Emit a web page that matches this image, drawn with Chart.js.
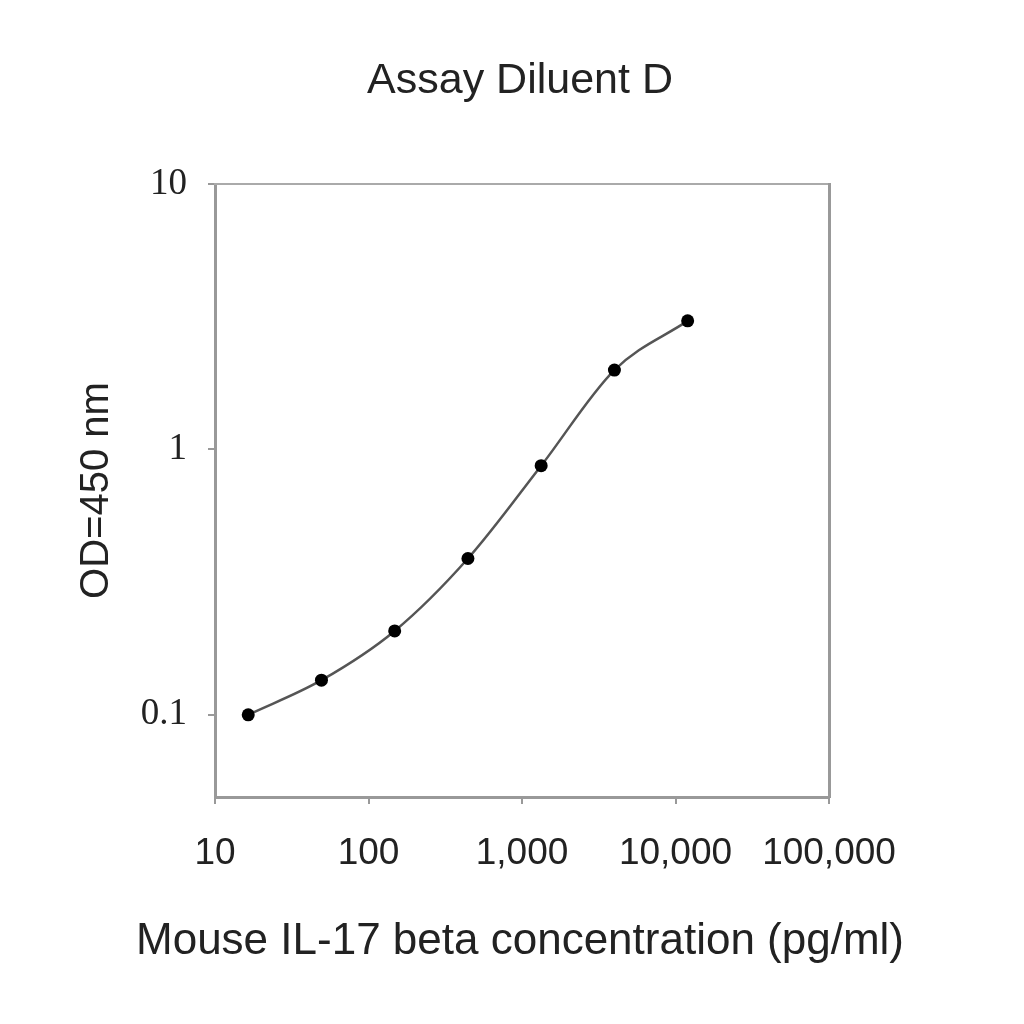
<!DOCTYPE html>
<html>
<head>
<meta charset="utf-8">
<script src="https://cdn.jsdelivr.net/npm/chart.js@4/dist/chart.umd.min.js"></script>
<style>
html,body{margin:0;padding:0;background:#fff;}
#wrap{width:1024px;height:1024px;position:relative;}
</style>
</head>
<body>
<div id="wrap"><canvas id="c" width="1024" height="1024"></canvas></div>
<script>
// Data
const concentrations = [16.46, 49.38, 148.1, 444.4, 1333, 4000, 12000];
const odValues = [0.100, 0.135, 0.207, 0.388, 0.868, 1.99, 3.05];
const xTickValues = [10, 100, 1000, 10000, 100000];
const xTickLabels = ['10', '100', '1,000', '10,000', '100,000'];
const yTickValues = [0.1, 1, 10];
const yTickLabels = ['0.1', '1', '10'];
const chartTitle = 'Assay Diluent D';
const xTitle = 'Mouse IL-17 beta concentration (pg/ml)';
const yTitle = 'OD=450 nm';

const points = concentrations.map((c, i) => ({x: c, y: odValues[i]}));
const sans = "'Liberation Sans', Arial, sans-serif";
const serif = "'Liberation Serif', 'Times New Roman', serif";

new Chart(document.getElementById('c'), {
  type: 'line',
  data: {
    datasets: [{
      data: points,
      borderColor: '#555',
      borderWidth: 2.5,
      pointRadius: 6.5,
      pointBackgroundColor: '#000',
      pointBorderColor: '#000',
      pointBorderWidth: 0,
      cubicInterpolationMode: 'monotone',
      fill: false
    }]
  },
  options: {
    responsive: false,
    animation: false,
    devicePixelRatio: 1,
    layout: {padding: {left: 16, right: 0, top: 0, bottom: 0}},
    plugins: {
      legend: {display: false},
      tooltip: {enabled: false},
      title: {
        display: true,
        text: chartTitle,
        color: '#222',
        font: {family: sans, size: 43, weight: 'normal'},
        padding: {top: 55, bottom: 77.4}
      },
      subtitle: {
        display: true,
        position: 'bottom',
        text: xTitle,
        color: '#222',
        font: {family: sans, size: 44, weight: 'normal'},
        padding: {top: 0, bottom: 55.6}
      }
    },
    scales: {
      x: {
        type: 'logarithmic',
        position: 'bottom',
        min: 10,
        max: 100000,
        afterBuildTicks: s => { s.ticks = xTickValues.map(v => ({value: v})); },
        afterFit: s => { s.height = 118.6; },
        ticks: {
          color: '#222',
          font: {family: sans, size: 37},
          padding: 28,
          maxRotation: 0,
          autoSkip: false,
          callback: v => { const i = xTickValues.indexOf(v); return i >= 0 ? xTickLabels[i] : ''; }
        },
        grid: {display: true, drawOnChartArea: false, drawTicks: true, tickLength: 7, color: '#999', lineWidth: 2},
        border: {display: true, color: '#999', width: 3},
        title: {display: false}
      },
      y: {
        type: 'logarithmic',
        position: 'left',
        min: 0.049,
        max: 10,
        afterBuildTicks: s => { s.ticks = yTickValues.map(v => ({value: v})); },
        afterFit: s => { s.width = 199; },
        ticks: {
          color: '#222',
          font: {family: serif, size: 37},
          padding: 21,
          autoSkip: false,
          callback: v => { const i = yTickValues.indexOf(v); return i >= 0 ? yTickLabels[i] : ''; }
        },
        grid: {display: true, drawOnChartArea: false, drawTicks: true, tickLength: 7, color: '#999', lineWidth: 2},
        border: {display: true, color: '#999', width: 3},
        title: {display: true, text: yTitle, color: '#222', font: {family: sans, size: 40}, padding: {top: 57, bottom: 0}}
      },
      xTop: {
        type: 'logarithmic',
        position: 'top',
        min: 10,
        max: 100000,
        afterFit: s => { s.height = 0; },
        ticks: {display: false},
        grid: {display: false, drawOnChartArea: false, drawTicks: false},
        border: {display: true, color: '#aaa', width: 2}
      },
      yRight: {
        type: 'logarithmic',
        position: 'right',
        min: 0.049,
        max: 10,
        afterFit: s => { s.width = 195; },
        ticks: {display: false},
        grid: {display: false, drawOnChartArea: false, drawTicks: false},
        border: {display: true, color: '#999', width: 3}
      }
    }
  }
});
</script>
</body>
</html>
